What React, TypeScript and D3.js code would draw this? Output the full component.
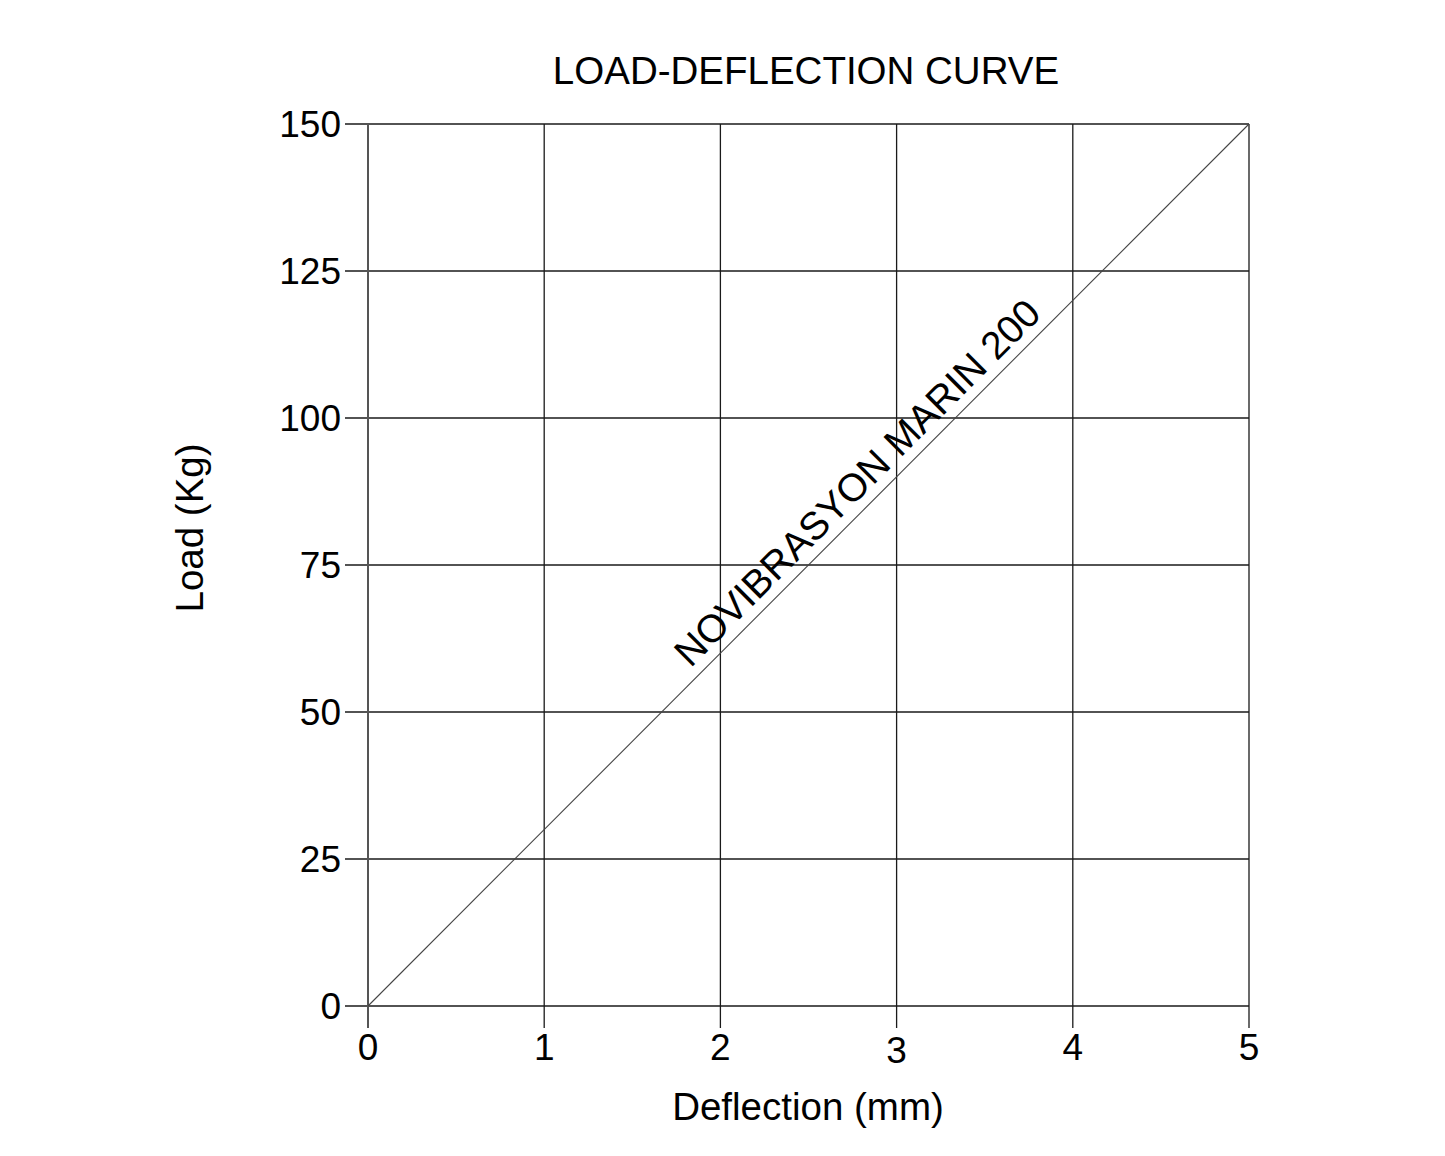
import React, { useEffect, useRef } from "react";
import * as d3 from "d3";

const xTicks = [0, 1, 2, 3, 4, 5];
const yTicks = [0, 25, 50, 75, 100, 125, 150];
const deflection = [0, 5];
const load = [0, 150];
const seriesLabel = "NOVIBRASYON MARIN 200";
const labelAt = { x: 2.87, y: 86.2 };
const title = "LOAD-DEFLECTION CURVE";
const xLabel = "Deflection (mm)";
const yLabel = "Load (Kg)";

const W = 1445;
const H = 1156;
const FONT = "Arial, 'Liberation Sans', Helvetica, sans-serif";

export default function App() {
  const ref = useRef<SVGSVGElement | null>(null);

  useEffect(() => {
    const svg = d3.select(ref.current);
    svg.selectAll("*").remove();

    const x = d3.scaleLinear().domain([0, 5]).range([368, 1249]);
    const y = d3.scaleLinear().domain([0, 150]).range([1006, 124]);

    svg.append("rect").attr("width", W).attr("height", H).attr("fill", "#fff");

    const g = svg.append("g");

    // horizontal grid lines + left ticks
    g.selectAll("line.hgrid")
      .data(yTicks)
      .join("line")
      .attr("x1", x(0) - 23)
      .attr("x2", x(5))
      .attr("y1", (d) => y(d))
      .attr("y2", (d) => y(d))
      .attr("stroke", "#1a1a1a")
      .attr("stroke-width", 1.3);

    // vertical grid lines + bottom ticks
    g.selectAll("line.vgrid")
      .data(xTicks)
      .join("line")
      .attr("x1", (d) => x(d))
      .attr("x2", (d) => x(d))
      .attr("y1", y(150))
      .attr("y2", y(0) + 22)
      .attr("stroke", (d) => (d === 0 ? "#555" : "#1a1a1a"))
      .attr("stroke-width", (d) => (d === 0 ? 2 : 1.3));

    // y tick labels
    g.selectAll("text.ytick")
      .data(yTicks)
      .join("text")
      .attr("x", 341)
      .attr("y", (d) => y(d))
      .attr("dy", "0.36em")
      .attr("text-anchor", "end")
      .attr("font-family", FONT)
      .attr("font-size", 37)
      .attr("fill", "#000")
      .text((d) => String(d));

    // x tick labels
    g.selectAll("text.xtick")
      .data(xTicks)
      .join("text")
      .attr("x", (d) => x(d))
      .attr("y", (d) => (d === 3 ? 1063 : 1060))
      .attr("text-anchor", "middle")
      .attr("font-family", FONT)
      .attr("font-size", 37)
      .attr("fill", "#000")
      .text((d) => String(d));

    // series line
    const pts = deflection.map((d, i) => [d, load[i]] as [number, number]);
    g.append("path")
      .attr(
        "d",
        d3
          .line<[number, number]>()
          .x((d) => x(d[0]))
          .y((d) => y(d[1]))(pts) || ""
      )
      .attr("fill", "none")
      .attr("stroke", "#444")
      .attr("stroke-width", 1.1);

    // series label along line
    const ang =
      (Math.atan2(y(150) - y(0), x(5) - x(0)) * 180) / Math.PI;
    g.append("text")
      .attr(
        "transform",
        `translate(${x(labelAt.x)},${y(labelAt.y)}) rotate(${ang})`
      )
      .attr("y", -10)
      .attr("text-anchor", "middle")
      .attr("font-family", FONT)
      .attr("font-size", 39)
      .attr("fill", "#000")
      .text(seriesLabel);

    // title
    svg
      .append("text")
      .attr("x", 806)
      .attr("y", 84)
      .attr("text-anchor", "middle")
      .attr("font-family", FONT)
      .attr("font-size", 38.5)
      .attr("fill", "#000")
      .text(title);

    // x axis label
    svg
      .append("text")
      .attr("x", 808)
      .attr("y", 1120)
      .attr("text-anchor", "middle")
      .attr("font-family", FONT)
      .attr("font-size", 38.5)
      .attr("fill", "#000")
      .text(xLabel);

    // y axis label
    svg
      .append("text")
      .attr("transform", `translate(203,528) rotate(-90)`)
      .attr("text-anchor", "middle")
      .attr("font-family", FONT)
      .attr("font-size", 38.5)
      .attr("fill", "#000")
      .text(yLabel);
  }, []);

  return (
    <svg
      ref={ref}
      width={W}
      height={H}
      style={{ position: "absolute", left: 0, top: 0, display: "block" }}
    />
  );
}
